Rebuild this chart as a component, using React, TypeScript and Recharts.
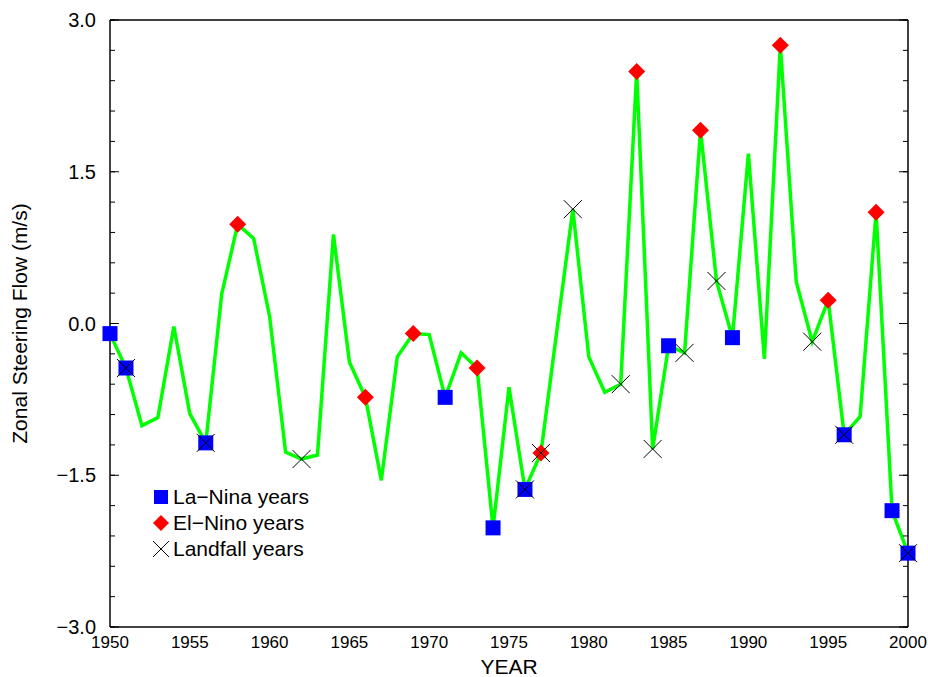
import { ComposedChart, Line, Scatter, XAxis, YAxis } from "recharts"

const years = [
  1950, 1951, 1952, 1953, 1954, 1955, 1956, 1957, 1958, 1959,
  1960, 1961, 1962, 1963, 1964, 1965, 1966, 1967, 1968, 1969,
  1970, 1971, 1972, 1973, 1974, 1975, 1976, 1977, 1978, 1979,
  1980, 1981, 1982, 1983, 1984, 1985, 1986, 1987, 1988, 1989,
  1990, 1991, 1992, 1993, 1994, 1995, 1996, 1997, 1998, 1999,
  2000,
]

// zonal steering flow, m/s
const flow = [
  -0.1, -0.44, -1.01, -0.93, -0.03, -0.89, -1.18, 0.29, 0.98, 0.84,
  0.07, -1.27, -1.34, -1.3, 0.88, -0.38, -0.73, -1.55, -0.33, -0.1,
  -0.11, -0.73, -0.29, -0.44, -2.02, -0.63, -1.64, -1.28, -0.07, 1.13,
  -0.33, -0.68, -0.6, 2.49, -1.24, -0.22, -0.29, 1.91, 0.42, -0.14,
  1.68, -0.35, 2.75, 0.41, -0.18, 0.23, -1.1, -0.92, 1.1, -1.85,
  -2.27,
]

const laNinaYears = [1950, 1951, 1956, 1971, 1974, 1976, 1985, 1989, 1996, 1999, 2000]
const elNinoYears = [1958, 1966, 1969, 1973, 1977, 1983, 1987, 1992, 1995, 1998]
const landfallYears = [1951, 1956, 1962, 1976, 1977, 1979, 1982, 1984, 1986, 1988, 1994, 1996, 2000]

const yearTicks = [1950, 1955, 1960, 1965, 1970, 1975, 1980, 1985, 1990, 1995, 2000]
const flowTicks = [-3, -1.5, 0, 1.5, 3]
const flowMinorTicks = [
  -3, -2.7, -2.4, -2.1, -1.8, -1.5, -1.2, -0.9, -0.6, -0.3, 0,
  0.3, 0.6, 0.9, 1.2, 1.5, 1.8, 2.1, 2.4, 2.7, 3,
]

const rows = years.map((year, i) => ({ year, flow: flow[i] }))
const pick = (list: number[]) => rows.filter((r) => list.includes(r.year))

const FONT = '"Liberation Sans", Arial, Helvetica, sans-serif'

const fmtFlow = (v: number) => (v < 0 ? "\u2212" + Math.abs(v).toFixed(1) : v.toFixed(1))
const blank = () => ""
// mirrored tick-only axes must be > 0 thick or recharts skips them
const THIN = 0.01

function SquareMark({ cx, cy }: any) {
  return <rect x={cx - 7.5} y={cy - 7.5} width={15} height={15} fill="#0000ff" />
}

function DiamondMark({ cx, cy }: any) {
  const r = 8.5
  return (
    <polygon
      points={`${cx},${cy - r} ${cx + r},${cy} ${cx},${cy + r} ${cx - r},${cy}`}
      fill="#ff0000"
    />
  )
}

function CrossMark({ cx, cy }: any) {
  const r = 9
  return (
    <g stroke="#000" strokeWidth={1}>
      <line x1={cx - r} y1={cy - r} x2={cx + r} y2={cy + r} />
      <line x1={cx - r} y1={cy + r} x2={cx + r} y2={cy - r} />
    </g>
  )
}

const legendItems = [
  { name: "La\u2212Nina years", kind: "square" },
  { name: "El\u2212Nino years", kind: "diamond" },
  { name: "Landfall years", kind: "cross" },
]

function LegendIcon({ kind }: { kind: string }) {
  return (
    <svg width={18} height={18} style={{ display: "block" }}>
      {kind === "square" && <rect x={2} y={2} width={14} height={14} fill="#0000ff" />}
      {kind === "diamond" && <polygon points="9,1 17,9 9,17 1,9" fill="#ff0000" />}
      {kind === "cross" && (
        <g stroke="#000" strokeWidth={1}>
          <line x1={1} y1={1} x2={17} y2={17} />
          <line x1={1} y1={17} x2={17} y2={1} />
        </g>
      )}
    </svg>
  )
}

export default function App() {
  const tickStroke = { stroke: "#000", strokeWidth: 1 }
  return (
    <div style={{ position: "absolute", left: 0, top: 0, width: 928, height: 677, background: "#fff" }}>
      <ComposedChart
        width={928}
        height={677}
        data={rows}
        margin={{ top: 20, right: 20, bottom: 0, left: 10 }}
        style={{ fontFamily: FONT }}
      >
        {/* labelled axes */}
        <XAxis
          xAxisId="main"
          dataKey="year"
          type="number"
          domain={[1950, 2000]}
          ticks={yearTicks}
          interval={0}
          height={50}
          tickLine={false}
          tickSize={6}
          tickMargin={3}
          axisLine={{ stroke: "#444", strokeWidth: 2 }}
          tick={{ fill: "#000", fontSize: 17, fontFamily: FONT }}
          label={{ value: "YEAR", position: "insideBottom", offset: 3, fill: "#000", fontSize: 21, fontFamily: FONT }}
        />
        <YAxis
          yAxisId="main"
          type="number"
          domain={[-3, 3]}
          ticks={flowTicks}
          interval={0}
          width={100}
          tickLine={false}
          tickSize={6}
          tickMargin={8}
          tickFormatter={fmtFlow}
          axisLine={{ stroke: "#444", strokeWidth: 2 }}
          tick={{ fill: "#000", fontSize: 20, fontFamily: FONT }}
          label={{
            value: "Zonal Steering Flow (m/s)",
            angle: -90,
            position: "insideLeft",
            offset: 10,
            fill: "#000",
            fontSize: 21,
            fontFamily: FONT,
            style: { textAnchor: "middle" },
          }}
        />

        {/* inward tick marks on all four sides */}
        <XAxis xAxisId="bMinor" orientation="bottom" mirror type="number" domain={[1950, 2000]} allowDataOverflow
          ticks={years} interval={0} height={THIN} tickSize={4} tickFormatter={blank} axisLine={false} tickLine={tickStroke} />
        <XAxis xAxisId="bMajor" orientation="bottom" mirror type="number" domain={[1950, 2000]} allowDataOverflow
          ticks={yearTicks} interval={0} height={THIN} tickSize={8} tickFormatter={blank} axisLine={false} tickLine={tickStroke} />
        <XAxis xAxisId="tMinor" orientation="top" mirror type="number" domain={[1950, 2000]} allowDataOverflow
          ticks={years} interval={0} height={THIN} tickSize={4} tickFormatter={blank}
          axisLine={{ stroke: "#000", strokeWidth: 1.5 }} tickLine={tickStroke} />
        <XAxis xAxisId="tMajor" orientation="top" mirror type="number" domain={[1950, 2000]} allowDataOverflow
          ticks={yearTicks} interval={0} height={THIN} tickSize={8} tickFormatter={blank} axisLine={false} tickLine={tickStroke} />
        <YAxis yAxisId="lMinor" orientation="left" mirror type="number" domain={[-3, 3]} allowDataOverflow
          ticks={flowMinorTicks} interval={0} width={THIN} tickSize={5} tickFormatter={blank} axisLine={false} tickLine={tickStroke} />
        <YAxis yAxisId="lMajor" orientation="left" mirror type="number" domain={[-3, 3]} allowDataOverflow
          ticks={flowTicks} interval={0} width={THIN} tickSize={9} tickFormatter={blank} axisLine={false} tickLine={tickStroke} />
        <YAxis yAxisId="rMinor" orientation="right" mirror type="number" domain={[-3, 3]} allowDataOverflow
          ticks={flowMinorTicks} interval={0} width={THIN} tickSize={5} tickFormatter={blank}
          axisLine={{ stroke: "#000", strokeWidth: 1.5 }} tickLine={tickStroke} />
        <YAxis yAxisId="rMajor" orientation="right" mirror type="number" domain={[-3, 3]} allowDataOverflow
          ticks={flowTicks} interval={0} width={THIN} tickSize={9} tickFormatter={blank} axisLine={false} tickLine={tickStroke} />

        <Line
          xAxisId="main"
          yAxisId="main"
          type="linear"
          dataKey="flow"
          stroke="#00ff00"
          strokeWidth={3.5}
          dot={false}
          activeDot={false}
          isAnimationActive={false}
        />
        <Scatter xAxisId="main" yAxisId="main" data={pick(laNinaYears)} dataKey="flow" shape={SquareMark} isAnimationActive={false} />
        <Scatter xAxisId="main" yAxisId="main" data={pick(elNinoYears)} dataKey="flow" shape={DiamondMark} isAnimationActive={false} />
        <Scatter xAxisId="main" yAxisId="main" data={pick(landfallYears)} dataKey="flow" shape={CrossMark} isAnimationActive={false} />
      </ComposedChart>

      <div style={{ position: "absolute", left: 152, top: 484, fontFamily: FONT, fontSize: 21, color: "#000" }}>
        {legendItems.map((it) => (
          <div key={it.name} style={{ display: "flex", alignItems: "center", height: 26 }}>
            <LegendIcon kind={it.kind} />
            <span style={{ marginLeft: 3, lineHeight: "26px" }}>{it.name}</span>
          </div>
        ))}
      </div>
    </div>
  )
}
